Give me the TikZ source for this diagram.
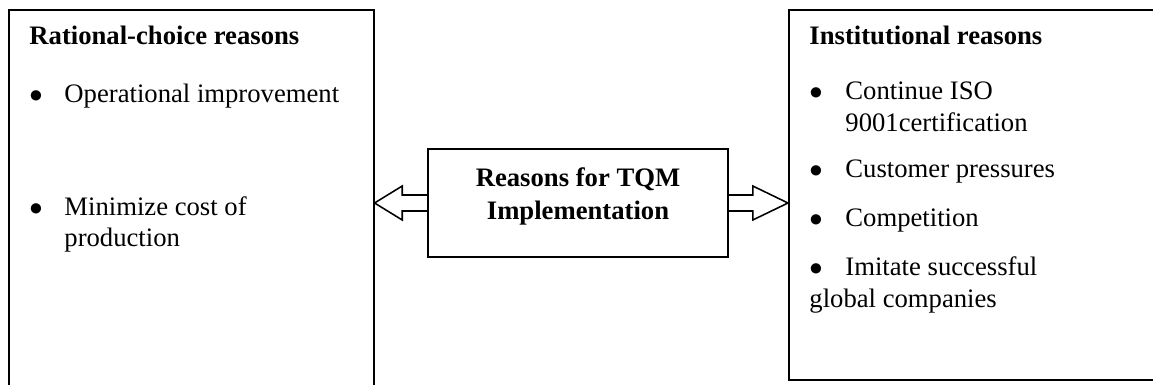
\documentclass[tikz,border=0pt]{standalone}
\usepackage{fontspec}
\setmainfont{Liberation Serif}
\usetikzlibrary{calc,positioning}

\begin{document}
\begin{tikzpicture}[
  x=0.45pt, y=-0.45pt,
  panel/.style={rectangle, draw, line width=0.7pt, inner sep=0pt},
  core/.style={rectangle, draw, line width=0.7pt, inner sep=0pt, minimum width=135pt, minimum height=48.6pt},
  txt/.style={anchor=base west, inner sep=0pt, font=\fontsize{12}{14}\selectfont},
  head/.style={txt, font=\fontsize{12}{14}\selectfont\bfseries},
  mid/.style={anchor=base, inner sep=0pt, font=\fontsize{12}{14}\selectfont\bfseries},
  hollow/.style={draw, line width=0.7pt, line join=miter}
]
\useasboundingbox (0,0) rectangle (1153,385);
\clip (0,0) rectangle (1153,385);

% Boxes
\node[panel, anchor=north west, minimum width=164.25pt, minimum height=176pt] (rational) at (8,9) {};
\node[panel, anchor=north west, minimum width=169.65pt, minimum height=166.5pt] (institutional) at (788,9) {};
\node[core] (tqm) at (578,203) {};

% Centre text
\node[mid] (tqmA) at (578,187) {Reasons for TQM};
\node[mid] (tqmB) at (578,220) {Implementation};

% Left: rational-choice reasons
\node[head] (rhead) at (29,45) {Rational-choice reasons};
\node[txt] (rb1) at (29,103) {$\bullet$};
\node[txt] (r1) at (64,103) {Operational improvement};
\node[txt] (rb2) at (29,216) {$\bullet$};
\node[txt] (r2) at (64,216) {Minimize cost of};
\node[txt] (r2b) at (64,247) {production};

% Right: institutional reasons
\node[head] (ihead) at (809,45) {Institutional reasons};
\node[txt] (ib1) at (809,100) {$\bullet$};
\node[txt] (i1) at (845,100) {Continue ISO};
\node[txt] (i1b) at (845,132) {9001certification};
\node[txt] (ib2) at (809,178) {$\bullet$};
\node[txt] (i2) at (845,178) {Customer pressures};
\node[txt] (ib3) at (809,227) {$\bullet$};
\node[txt] (i3) at (845,227) {Competition};
\node[txt] (ib4) at (809,276) {$\bullet$};
\node[txt] (i4) at (845,276) {Imitate successful};
\node[txt] (i4b) at (809,308) {global companies};

% Block arrows
\draw[hollow] ($(tqm.west)+(0,-8)$) -- ++(-25,0) -- ++(0,-9) -- (rational.east |- tqm.west)
  -- ($(tqm.west)+(-25,17)$) -- ++(0,-9) -- ($(tqm.west)+(0,8)$);
\draw[hollow] ($(tqm.east)+(0,-8)$) -- ++(24,0) -- ++(0,-9) -- (institutional.west |- tqm.east)
  -- ($(tqm.east)+(24,17)$) -- ++(0,-9) -- ($(tqm.east)+(0,8)$);

\end{tikzpicture}
\end{document}
